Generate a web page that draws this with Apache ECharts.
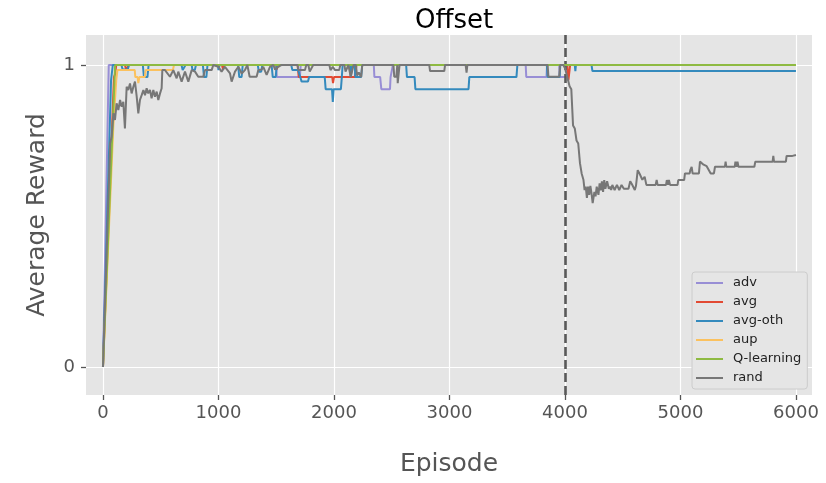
<!DOCTYPE html>
<html>
<head>
<meta charset="utf-8">
<script src="https://cdn.jsdelivr.net/npm/echarts@6/dist/echarts.min.js"></script>
<style>html,body{margin:0;padding:0;background:#fff}#c{width:826px;height:483px}</style>
</head>
<body>
<div id="c"></div>
<script>
const seriesNames = ['adv', 'avg', 'avg-oth', 'aup', 'Q-learning', 'rand'];
const xTicks = [0, 1000, 2000, 3000, 4000, 5000, 6000];
const yTicks = [0, 1];
const switchEpisode = 4000;

const advData = [[0,0],[50,1],[1500,1],[1505,0.96],[1705,0.96],[1712,1],[2345,1],[2350,0.96],[2400,0.96],[2410,0.92],[2485,0.92],[2490,0.96],[2500,0.96],[2510,1],[3660,1],[3665,0.96],[3840,0.96],[3845,1],[3950,1],[3955,0.96],[4015,0.96],[4020,1],[6000,1]];

const avgData = [[0,0],[95,0.96],[105,0.97],[115,1],[190,1],[200,0.985],[215,0.985],[225,1],[1030,1],[1040,0.985],[1050,1],[1500,1],[1505,0.985],[1515,1],[1685,1],[1695,0.96],[1985,0.96],[1992,0.94],[2000,0.96],[2180,0.96],[2195,1],[4020,1],[4030,0.95],[4045,1],[6000,1]];

const avgOthData = [[0,0],[70,0.95],[85,1],[160,1],[170,0.985],[215,0.985],[225,1],[345,1],[355,0.96],[385,0.96],[395,1],[680,1],[690,0.983],[705,0.983],[715,1],[768,1],[775,0.983],[795,0.983],[805,1],[865,1],[875,0.96],[895,0.96],[905,1],[995,1],[1000,0.983],[1010,1],[1170,1],[1180,0.96],[1200,0.96],[1210,1],[1340,1],[1350,0.978],[1370,0.978],[1380,1],[1460,1],[1470,0.96],[1495,0.96],[1505,1],[1630,1],[1640,0.983],[1690,0.983],[1708,0.96],[1720,0.945],[1775,0.945],[1785,0.96],[1920,0.96],[1928,0.92],[1983,0.92],[1990,0.878],[1997,0.92],[2060,0.92],[2068,0.96],[2075,1],[2140,1],[2145,0.96],[2155,0.96],[2160,1],[2180,1],[2185,0.96],[2235,0.96],[2245,1],[2625,1],[2632,0.96],[2698,0.96],[2705,0.92],[3165,0.92],[3172,0.96],[3580,0.96],[3588,1],[3843,1],[3850,0.96],[3953,0.96],[3960,1],[4085,1],[4090,0.98],[4095,1],[4230,1],[4238,0.98],[6000,0.98]];

const aupData = [[0,0],[90,0.8],[115,0.95],[125,0.983],[275,0.983],[280,0.96],[300,0.96],[306,0.94],[315,0.96],[362,0.96],[370,0.983],[605,0.983],[615,1],[6000,1]];

const qLearningData = [[0,0],[105,1],[6000,1]];

const randData = [[0,0],[62,0.74],[75,0.763],[90,0.84],[104,0.818],[118,0.873],[133,0.851],[148,0.884],[162,0.862],[176,0.878],[190,0.79],[205,0.928],[219,0.917],[234,0.939],[248,0.906],[263,0.928],[277,0.945],[292,0.895],[306,0.84],[320,0.884],[335,0.9],[350,0.917],[364,0.9],[378,0.923],[392,0.906],[407,0.917],[421,0.89],[436,0.917],[450,0.895],[465,0.912],[479,0.884],[494,0.906],[508,0.923],[514,0.983],[537,0.983],[580,0.961],[609,0.983],[638,0.956],[652,0.978],[681,0.945],[710,0.978],[739,0.945],[768,0.983],[797,0.978],[825,0.961],[869,0.961],[883,0.983],[941,0.983],[955,1],[999,0.994],[1027,0.978],[1056,0.994],[1100,0.972],[1114,0.945],[1143,0.978],[1172,0.994],[1201,0.972],[1229,0.983],[1250,1],[1258,0.994],[1270,0.961],[1330,0.961],[1345,0.983],[1374,0.985],[1388,0.994],[1417,0.967],[1446,0.994],[1475,1],[1490,0.985],[1505,0.985],[1518,0.994],[1547,1],[1685,1],[1691,0.983],[1749,0.983],[1760,1],[1778,1],[1790,0.978],[1807,0.978],[1820,1],[1960,1],[1970,0.983],[1990,0.994],[2009,0.983],[2045,0.983],[2055,1],[2090,1],[2100,0.978],[2115,0.978],[2125,1],[2138,1],[2145,0.961],[2162,0.961],[2170,1],[2190,1],[2200,0.965],[2215,0.975],[2235,0.96],[2245,1],[2515,1],[2522,0.961],[2540,0.961],[2548,1],[2552,0.94],[2560,0.94],[2568,1],[2825,1],[2832,0.98],[2955,0.98],[2962,1],[3140,1],[3148,0.975],[3155,1],[3850,1],[3857,0.961],[3950,0.961],[3958,1],[3985,1],[4000,0.99],[4020,0.96],[4040,0.93],[4055,0.92],[4070,0.8],[4085,0.79],[4100,0.75],[4115,0.74],[4130,0.675],[4145,0.64],[4160,0.62],[4170,0.586],[4180,0.597],[4190,0.56],[4200,0.597],[4210,0.57],[4220,0.6],[4230,0.575],[4240,0.543],[4255,0.58],[4265,0.565],[4275,0.597],[4290,0.57],[4300,0.608],[4310,0.585],[4320,0.615],[4330,0.58],[4340,0.619],[4350,0.59],[4365,0.615],[4380,0.59],[4390,0.597],[4400,0.586],[4410,0.603],[4430,0.586],[4450,0.603],[4470,0.586],[4490,0.603],[4510,0.59],[4550,0.59],[4565,0.615],[4580,0.605],[4605,0.586],[4615,0.6],[4630,0.652],[4645,0.641],[4655,0.645],[4670,0.62],[4690,0.63],[4705,0.603],[4785,0.603],[4794,0.619],[4802,0.603],[4875,0.603],[4882,0.619],[4892,0.603],[4900,0.619],[4910,0.603],[4975,0.603],[4981,0.619],[5032,0.619],[5039,0.641],[5080,0.641],[5085,0.652],[5097,0.663],[5105,0.641],[5160,0.641],[5169,0.68],[5200,0.67],[5227,0.665],[5262,0.641],[5290,0.641],[5299,0.663],[5385,0.663],[5391,0.68],[5397,0.663],[5470,0.663],[5476,0.68],[5484,0.663],[5494,0.68],[5502,0.663],[5640,0.663],[5648,0.68],[5798,0.68],[5804,0.699],[5810,0.68],[5913,0.68],[5919,0.699],[5970,0.699],[5977,0.702],[6000,0.702]];

const seriesData = [advData, avgData, avgOthData, aupData, qLearningData, randData];
const colors = ['#988ED5', '#E24A33', '#348ABD', '#FBC15E', '#8EBA42', '#777777'];

const FONT = 'DejaVu Sans';
const chart = echarts.init(document.getElementById('c'), null, {renderer: 'canvas'});

const series = seriesNames.map((name, i) => ({
  name: name,
  type: 'line',
  data: seriesData[i],
  showSymbol: false,
  symbol: 'none',
  animation: false,
  lineStyle: {width: 2, color: colors[i]},
  itemStyle: {color: colors[i]},
  z: 2 + i
}));
series[5].markLine = {
  silent: true,
  symbol: 'none',
  animation: false,
  label: {show: false},
  lineStyle: {color: '#595959', width: 2.6, type: [9, 4]},
  data: [{xAxis: switchEpisode}]
};

const hiddenLine = {show: true, onZero: false, lineStyle: {color: 'rgba(255,255,255,0)', width: 1}};

chart.setOption({
  animation: false,
  backgroundColor: '#ffffff',
  color: colors,
  title: {
    text: 'Offset',
    left: 410,
    top: 3,
    textStyle: {fontFamily: FONT, fontSize: 26, fontWeight: 'normal', color: '#000'}
  },
  grid: {left: 86, right: 14, top: 35, bottom: 88, show: true, backgroundColor: '#E5E5E5', borderWidth: 0, containLabel: false},
  legend: {
    orient: 'vertical',
    left: 692,
    top: 272,
    data: seriesNames,
    icon: 'rect',
    itemWidth: 27,
    itemHeight: 2,
    itemGap: 5,
    padding: [4, 6, 4, 4],
    backgroundColor: '#E5E5E5',
    borderColor: '#CCCCCC',
    borderWidth: 1,
    borderRadius: 3,
    textStyle: {fontFamily: FONT, fontSize: 13, color: '#222', lineHeight: 14, padding: [0, 0, 0, 5]}
  },
  xAxis: {
    type: 'value',
    min: -147,
    max: 6139,
    name: 'Episode',
    nameLocation: 'middle',
    nameGap: 57,
    nameTextStyle: {fontFamily: FONT, fontSize: 25, color: '#555555'},
    axisLine: hiddenLine,
    axisTick: {show: true, inside: false, length: 5, lineStyle: {color: '#555555', width: 1.3}, customValues: xTicks},
    axisLabel: {fontFamily: FONT, fontSize: 18, color: '#555555', margin: 9, customValues: xTicks, formatter: v => String(v)},
    splitLine: {show: true, lineStyle: {color: '#ffffff', width: 1.2}}
  },
  yAxis: {
    type: 'value',
    min: -0.0927,
    max: 1.0993,
    name: 'Average Reward',
    nameLocation: 'middle',
    nameGap: 36,
    nameTextStyle: {fontFamily: FONT, fontSize: 25, color: '#555555'},
    axisLine: hiddenLine,
    axisTick: {show: true, inside: false, length: 5, lineStyle: {color: '#555555', width: 1.3}, customValues: yTicks},
    axisLabel: {fontFamily: FONT, fontSize: 18, color: '#555555', margin: 11, customValues: yTicks, formatter: v => String(v)},
    splitLine: {show: true, lineStyle: {color: '#ffffff', width: 1.2}}
  },
  series: series
});
</script>
</body>
</html>
